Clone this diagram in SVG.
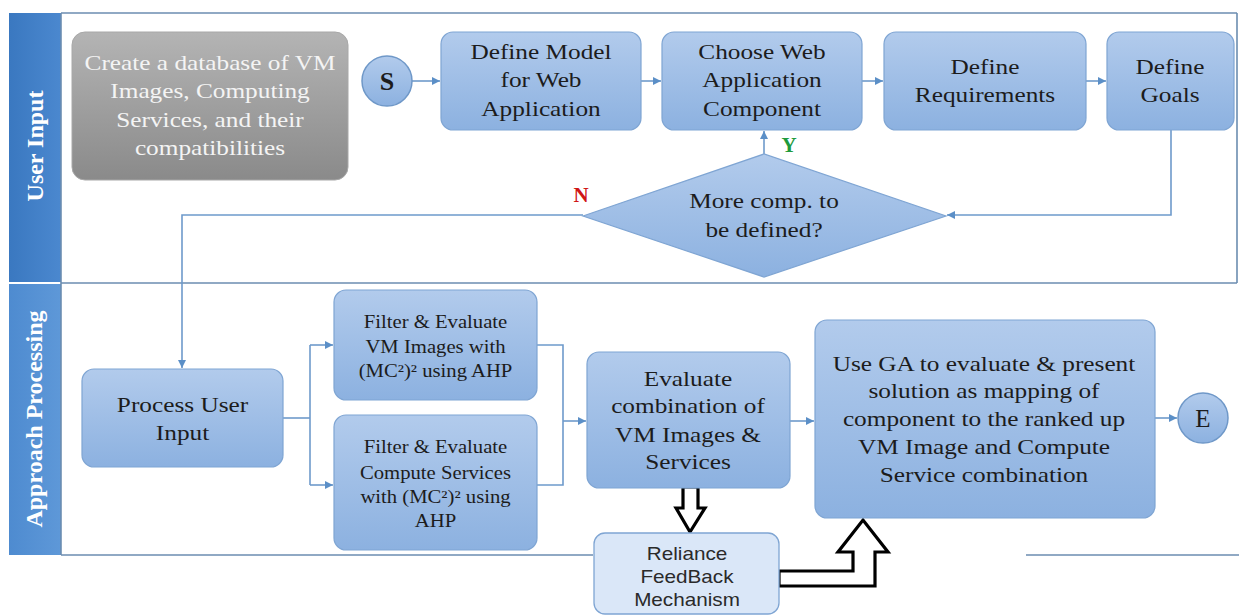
<svg xmlns="http://www.w3.org/2000/svg" width="1239" height="615" viewBox="0 0 1239 615">
<defs>
<style>
.lane{fill:none;stroke:#6b8db0;stroke-width:1.6}
.box{fill:url(#gBlue);stroke:#7fa5d3;stroke-width:1.2}
.gray{fill:url(#gGray);stroke:#a8a8a8;stroke-width:1}
.con{fill:none;stroke:#6e9acb;stroke-width:1.6}
.blk{fill:#ffffff;stroke:#000000;stroke-width:3.2;stroke-linejoin:miter}
.t{font-family:"Liberation Serif","Times New Roman",serif;font-size:22px;fill:#1c1c1c;text-anchor:middle}
.ts{font-family:"Liberation Serif","Times New Roman",serif;font-size:18px;fill:#1c1c1c;text-anchor:middle}
.tw{font-family:"Liberation Serif","Times New Roman",serif;font-size:22px;fill:#f4f4f4;text-anchor:middle}
.ta{font-family:"Liberation Sans",Arial,sans-serif;font-size:18px;fill:#2a2a2a;text-anchor:middle}
.lbl{font-family:"Liberation Serif","Times New Roman",serif;font-size:24px;font-weight:bold;fill:#ffffff;text-anchor:middle}
</style>
<linearGradient id="gBlue" x1="0" y1="0" x2="0" y2="1">
<stop offset="0" stop-color="#b2cbec"/>
<stop offset="1" stop-color="#8cb1e0"/>
</linearGradient>
<linearGradient id="gGray" x1="0" y1="0" x2="0" y2="1">
<stop offset="0" stop-color="#b4b4b4"/>
<stop offset="1" stop-color="#8a8a8a"/>
</linearGradient>
<linearGradient id="gBar1" x1="0" y1="0" x2="1" y2="0">
<stop offset="0" stop-color="#3a78c0"/>
<stop offset="1" stop-color="#4b88cf"/>
</linearGradient>
<linearGradient id="gBar2" x1="0" y1="0" x2="1" y2="0">
<stop offset="0" stop-color="#4e8bd0"/>
<stop offset="1" stop-color="#5e98d8"/>
</linearGradient>
<marker id="arr" viewBox="0 0 10 10" refX="10" refY="5" markerWidth="9" markerHeight="8" markerUnits="userSpaceOnUse" orient="auto">
<path d="M0,0 L10,5 L0,10 z" fill="#5b8fc7"/>
</marker>
</defs>

<g id="lanes">
<rect x="9" y="13" width="52" height="269" fill="url(#gBar1)"/>
<rect x="9" y="284" width="52" height="271" fill="url(#gBar2)"/>
<line class="lane" x1="61" y1="13" x2="1237" y2="13"/>
<line class="lane" x1="1237" y1="13" x2="1237" y2="283"/>
<line class="lane" x1="61" y1="283" x2="1237" y2="283"/>
<line class="lane" x1="61" y1="13" x2="61" y2="555"/>
<line class="lane" x1="61" y1="555" x2="593" y2="555"/>
<line class="lane" x1="1026" y1="555" x2="1239" y2="555" stroke="#8a9aaa"/>
<text class="lbl" transform="translate(35,146) rotate(-90)" y="8">User Input</text>
<text class="lbl" transform="translate(34,419) rotate(-90)" y="8">Approach Processing</text>
</g>

<g id="connectors">
<line class="con" x1="412" y1="81" x2="440" y2="81" marker-end="url(#arr)"/>
<line class="con" x1="641" y1="81" x2="661" y2="81" marker-end="url(#arr)"/>
<line class="con" x1="862" y1="81" x2="883" y2="81" marker-end="url(#arr)"/>
<line class="con" x1="1086" y1="81" x2="1106" y2="81" marker-end="url(#arr)"/>
<polyline class="con" points="1171,130 1171,215 947,215" marker-end="url(#arr)"/>
<line class="con" x1="764" y1="154" x2="764" y2="131" marker-end="url(#arr)"/>
<polyline class="con" points="583,215 182,215 182,368" marker-end="url(#arr)"/>
<line class="con" x1="283" y1="418" x2="310" y2="418"/>
<line class="con" x1="310" y1="345" x2="310" y2="485"/>
<line class="con" x1="310" y1="345" x2="333" y2="345" marker-end="url(#arr)"/>
<line class="con" x1="310" y1="485" x2="333" y2="485" marker-end="url(#arr)"/>
<polyline class="con" points="537,345 563,345 563,485 537,485"/>
<line class="con" x1="563" y1="421" x2="586" y2="421" marker-end="url(#arr)"/>
<line class="con" x1="790" y1="421" x2="814" y2="421" marker-end="url(#arr)"/>
<line class="con" x1="1155" y1="418" x2="1177" y2="418" marker-end="url(#arr)"/>
<polygon class="blk" points="683,487 698,487 698,508 705,508 690,532 676,508 683,508"/>
<polygon class="blk" points="779,571 853,571 853,552 838,552 863,520 888,552 875,552 875,586 779,586"/>
</g>

<g id="n-db">
<rect class="gray" x="72" y="32" width="276" height="148" rx="13"/>
<g transform="translate(210,0) scale(1.15,1)">
<text class="tw" y="70">Create a database of VM</text>
<text class="tw" y="98">Images, Computing</text>
<text class="tw" y="127">Services, and their</text>
<text class="tw" y="155">compatibilities</text>
</g>
</g>

<g id="n-start">
<circle cx="387" cy="81" r="25" fill="url(#gBlue)" stroke="#6f98c8" stroke-width="1.5"/>
<text class="t" x="387" y="90" style="font-weight:bold;font-size:26px">S</text>
</g>

<g id="n-model">
<rect class="box" x="441" y="32" width="200" height="98" rx="12"/>
<g transform="translate(541,0) scale(1.15,1)">
<text class="t" y="59">Define Model</text>
<text class="t" y="87">for Web</text>
<text class="t" y="116">Application</text>
</g>
</g>

<g id="n-choose">
<rect class="box" x="662" y="32" width="200" height="98" rx="12"/>
<g transform="translate(762,0) scale(1.15,1)">
<text class="t" y="59">Choose Web</text>
<text class="t" y="87">Application</text>
<text class="t" y="116">Component</text>
</g>
</g>

<g id="n-req">
<rect class="box" x="884" y="32" width="202" height="98" rx="12"/>
<g transform="translate(985,0) scale(1.15,1)">
<text class="t" y="74">Define</text>
<text class="t" y="102">Requirements</text>
</g>
</g>

<g id="n-goals">
<rect class="box" x="1107" y="32" width="127" height="98" rx="12"/>
<g transform="translate(1170,0) scale(1.15,1)">
<text class="t" y="74">Define</text>
<text class="t" y="102">Goals</text>
</g>
</g>

<g id="n-decision">
<polygon points="583,216 764,154 946,216 764,277" fill="url(#gBlue)" stroke="#7fa5d3" stroke-width="1.2"/>
<g transform="translate(764,0) scale(1.15,1)">
<text class="t" y="208">More comp. to</text>
<text class="t" y="237">be defined?</text>
</g>
<text class="t" x="789" y="152" style="font-weight:bold;fill:#1e9a3c;font-size:21px">Y</text>
<text class="t" x="581" y="202" style="font-weight:bold;fill:#d01515;font-size:21px">N</text>
</g>

<g id="n-process">
<rect class="box" x="82" y="369" width="201" height="98" rx="12"/>
<g transform="translate(182.5,0) scale(1.15,1)">
<text class="t" y="412">Process User</text>
<text class="t" y="440">Input</text>
</g>
</g>

<g id="n-filter-vm">
<rect class="box" x="334" y="290" width="203" height="110" rx="12"/>
<g transform="translate(435.5,0) scale(1.15,1)">
<text class="ts" y="328">Filter &amp; Evaluate</text>
<text class="ts" y="353">VM Images with</text>
<text class="ts" y="377">(MC²)² using AHP</text>
</g>
</g>

<g id="n-filter-cs">
<rect class="box" x="334" y="415" width="203" height="135" rx="12"/>
<g transform="translate(435.5,0) scale(1.15,1)">
<text class="ts" y="453">Filter &amp; Evaluate</text>
<text class="ts" y="479">Compute Services</text>
<text class="ts" y="503">with (MC²)² using</text>
<text class="ts" y="527">AHP</text>
</g>
</g>

<g id="n-evaluate">
<rect class="box" x="587" y="352" width="203" height="136" rx="12"/>
<g transform="translate(688,0) scale(1.15,1)">
<text class="t" y="386">Evaluate</text>
<text class="t" y="413">combination of</text>
<text class="t" y="442">VM Images &amp;</text>
<text class="t" y="469">Services</text>
</g>
</g>

<g id="n-ga">
<rect class="box" x="815" y="320" width="340" height="198" rx="12"/>
<g transform="translate(984,0) scale(1.15,1)">
<text class="t" y="371">Use GA to evaluate &amp; present</text>
<text class="t" y="398">solution as mapping of</text>
<text class="t" y="426">component to the ranked up</text>
<text class="t" y="454">VM Image and Compute</text>
<text class="t" y="482">Service combination</text>
</g>
</g>

<g id="n-end">
<circle cx="1203" cy="418" r="25" fill="url(#gBlue)" stroke="#6f98c8" stroke-width="1.5"/>
<text class="t" x="1203" y="427" style="font-size:25px">E</text>
</g>

<g id="n-reliance">
<rect x="594" y="533" width="185" height="81" rx="11" fill="#dae7f8" stroke="#7fa5d3" stroke-width="1.3"/>
<g transform="translate(687,0) scale(1.15,1)">
<text class="ta" y="560">Reliance</text>
<text class="ta" y="583">FeedBack</text>
<text class="ta" y="606">Mechanism</text>
</g>
</g>
</svg>
